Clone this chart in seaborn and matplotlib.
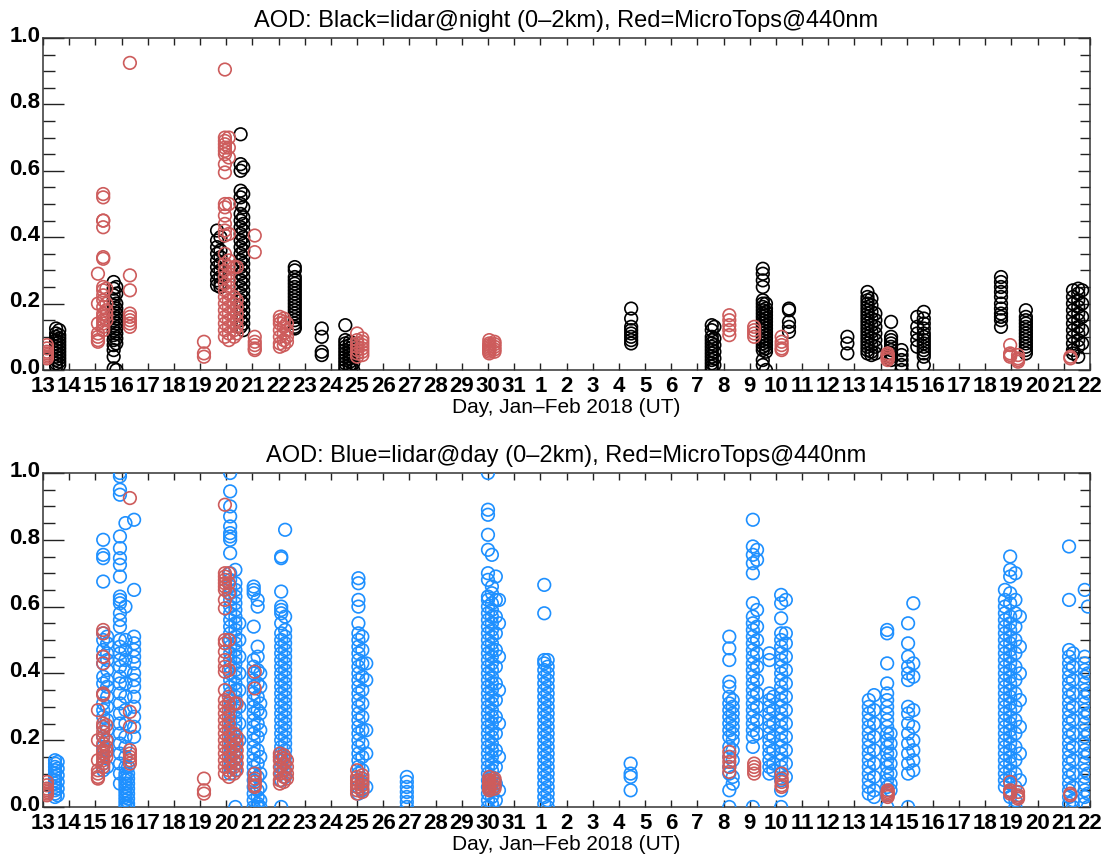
import numpy as np
import pandas as pd
import matplotlib
matplotlib.use("Agg")
import matplotlib.pyplot as plt
import matplotlib.transforms as mtransforms
import seaborn as sns

# ---------------- data (day of year 2018, AOD) ----------------
# each entry: (day, [aod values]) -> one narrow column of observations
night_columns = [
    (13.50, [0.125, 0.11, 0.10, 0.09, 0.08, 0.07, 0.06, 0.05, 0.04, 0.03, 0.02, 0.01]),
    (13.62, [0.12, 0.105, 0.095, 0.085, 0.075, 0.065, 0.055, 0.045, 0.035, 0.025, 0.015]),
    (15.70, [0.265, 0.245, 0.225, 0.21, 0.195, 0.18, 0.165, 0.15, 0.135, 0.12, 0.105, 0.09, 0.075, 0.06, 0.04, 0.005]),
    (15.80, [0.25, 0.23, 0.20, 0.185, 0.17, 0.155, 0.14, 0.125, 0.11, 0.095, 0.08, 0.0]),
    (19.65, [0.42, 0.39, 0.37, 0.35, 0.33, 0.31, 0.29, 0.27, 0.255]),
    (19.78, [0.40, 0.36, 0.34, 0.32, 0.30, 0.28, 0.26, 0.25]),
    (20.55, [0.71, 0.62, 0.60, 0.54, 0.52, 0.50, 0.47, 0.45, 0.43, 0.41, 0.39, 0.37, 0.35, 0.33, 0.31,
             0.29, 0.27, 0.25, 0.23, 0.21, 0.19, 0.17, 0.15, 0.13]),
    (20.65, [0.61, 0.53, 0.49, 0.46, 0.44, 0.42, 0.40, 0.38, 0.36, 0.34, 0.32, 0.30, 0.28, 0.26, 0.24,
             0.22, 0.20, 0.18, 0.16, 0.14, 0.12]),
    (22.62, [0.31, 0.30, 0.28, 0.27, 0.26, 0.25, 0.24, 0.23, 0.22, 0.21, 0.20, 0.19, 0.18, 0.17, 0.16,
             0.15, 0.14, 0.13, 0.125]),
    (23.65, [0.125, 0.10, 0.055, 0.045]),
    (24.55, [0.135, 0.09, 0.08, 0.07, 0.06, 0.05, 0.04, 0.03, 0.02, 0.01, 0.0]),
    (24.72, [0.085, 0.075, 0.065, 0.055, 0.045, 0.035, 0.025, 0.015, 0.005]),
    (24.85, [0.08, 0.06, 0.04, 0.02, 0.0]),
    (35.47, [0.185, 0.155, 0.13, 0.12, 0.11, 0.10, 0.09, 0.08]),
    (38.55, [0.135, 0.12, 0.10, 0.09, 0.08, 0.07, 0.06, 0.05, 0.04, 0.03, 0.02, 0.01, 0.0]),
    (38.65, [0.13, 0.095, 0.075, 0.055, 0.035, 0.015]),
    (40.50, [0.305, 0.29, 0.27, 0.25, 0.21, 0.20, 0.19, 0.18, 0.17, 0.16, 0.15, 0.14, 0.13, 0.12, 0.11,
             0.10, 0.09, 0.08, 0.07, 0.06, 0.03, 0.015]),
    (40.62, [0.20, 0.185, 0.175, 0.165, 0.155, 0.145, 0.135, 0.125, 0.115, 0.105, 0.095, 0.085, 0.075,
             0.065, 0.055, 0.0]),
    (41.50, [0.185, 0.18, 0.145, 0.13, 0.115]),
    (43.73, [0.10, 0.08, 0.05]),
    (44.50, [0.235, 0.22, 0.21, 0.20, 0.19, 0.18, 0.17, 0.16, 0.15, 0.14, 0.13, 0.12, 0.11, 0.10, 0.09,
             0.08, 0.07, 0.06, 0.05]),
    (44.65, [0.215, 0.195, 0.175, 0.155, 0.135, 0.115, 0.095, 0.075, 0.055, 0.045]),
    (44.80, [0.17, 0.15, 0.13, 0.11, 0.09, 0.07, 0.05]),
    (45.40, [0.145, 0.10, 0.09, 0.08, 0.07, 0.06, 0.05, 0.04, 0.03]),
    (45.80, [0.06, 0.045, 0.03, 0.015, 0.0]),
    (46.40, [0.16, 0.13, 0.11, 0.09, 0.07]),
    (46.65, [0.175, 0.155, 0.14, 0.125, 0.11, 0.10, 0.09, 0.08, 0.07, 0.06, 0.05, 0.04, 0.015]),
    (49.60, [0.28, 0.265, 0.25, 0.235, 0.22, 0.20, 0.185, 0.17, 0.16, 0.15, 0.13]),
    (50.55, [0.18, 0.16, 0.15, 0.14, 0.13, 0.12, 0.11, 0.10, 0.09, 0.08, 0.07, 0.06, 0.05]),
    (52.35, [0.24, 0.22, 0.20, 0.18, 0.16, 0.14, 0.12, 0.10, 0.08, 0.06, 0.05]),
    (52.55, [0.245, 0.23, 0.21, 0.19, 0.17, 0.15, 0.13, 0.11, 0.09, 0.07, 0.04]),
    (52.70, [0.24, 0.20, 0.16, 0.12, 0.08]),
]

microtops_columns = [
    (13.15, [0.075, 0.065, 0.055, 0.05, 0.045, 0.04, 0.035]),
    (15.10, [0.29, 0.20, 0.14, 0.11, 0.10, 0.09, 0.085]),
    (15.30, [0.53, 0.52, 0.45, 0.45, 0.43, 0.34, 0.335, 0.25, 0.24, 0.225, 0.21, 0.19, 0.17, 0.16, 0.15,
             0.14, 0.13, 0.12]),
    (15.42, [0.245, 0.20, 0.18, 0.165, 0.15]),
    (16.32, [0.925, 0.285, 0.24, 0.17, 0.16, 0.15, 0.14, 0.13]),
    (19.15, [0.085, 0.05, 0.04]),
    (19.95, [0.905, 0.70, 0.69, 0.68, 0.67, 0.66, 0.65, 0.62, 0.595, 0.50, 0.49, 0.465, 0.44, 0.42, 0.405,
             0.35, 0.32, 0.30, 0.28, 0.26, 0.24, 0.22, 0.20, 0.18, 0.16, 0.14, 0.12, 0.10]),
    (20.10, [0.70, 0.67, 0.64, 0.50, 0.41, 0.33, 0.31, 0.29, 0.27, 0.25, 0.23, 0.21, 0.19, 0.17, 0.15,
             0.13, 0.11, 0.09]),
    (20.30, [0.31, 0.22, 0.20, 0.18, 0.16, 0.14, 0.12, 0.10]),
    (20.40, [0.31, 0.21, 0.19, 0.17, 0.15, 0.13, 0.11]),
    (21.09, [0.405, 0.355, 0.10, 0.085, 0.075, 0.065, 0.06]),
    (22.05, [0.16, 0.15, 0.14, 0.12, 0.10, 0.08, 0.07]),
    (22.20, [0.155, 0.145, 0.13, 0.11, 0.09, 0.075]),
    (22.32, [0.14, 0.12, 0.10, 0.085]),
    (25.00, [0.11, 0.09, 0.08, 0.07, 0.06, 0.05, 0.04]),
    (25.20, [0.095, 0.085, 0.075, 0.065, 0.055, 0.045]),
    (30.05, [0.09, 0.08, 0.075, 0.07, 0.065, 0.06, 0.055, 0.05]),
    (30.25, [0.085, 0.078, 0.07, 0.062, 0.055]),
    (39.22, [0.165, 0.15, 0.135, 0.12, 0.105]),
    (40.17, [0.13, 0.12, 0.11, 0.10]),
    (41.22, [0.10, 0.085, 0.075, 0.065, 0.06]),
    (45.27, [0.05, 0.045, 0.04, 0.035, 0.03]),
    (49.95, [0.075, 0.05, 0.045, 0.04]),
    (50.25, [0.045, 0.035, 0.03, 0.025]),
    (52.25, [0.04, 0.035]),
]

day_columns = [
    (13.46, [0.14, 0.13, 0.12, 0.11, 0.10, 0.09, 0.08, 0.07, 0.06, 0.05, 0.04, 0.03]),
    (13.56, [0.135, 0.115, 0.095, 0.075, 0.055, 0.035]),
    (15.30, [0.80, 0.755, 0.745, 0.675, 0.52, 0.50, 0.47, 0.45, 0.43, 0.39, 0.37, 0.34, 0.31, 0.29, 0.27,
             0.24, 0.21, 0.18, 0.13, 0.11]),
    (15.45, [0.51, 0.49, 0.46, 0.44, 0.41, 0.38, 0.36, 0.33, 0.30, 0.26, 0.23, 0.20, 0.17, 0.12]),
    (15.94, [1.0, 0.99, 0.95, 0.935, 0.81, 0.775, 0.745, 0.725, 0.69, 0.63, 0.62, 0.61, 0.58, 0.56, 0.54,
             0.50, 0.48, 0.46, 0.44, 0.42, 0.39, 0.37, 0.34, 0.31, 0.28, 0.25, 0.22, 0.19, 0.16, 0.13,
             0.10, 0.07]),
    (16.15, [0.85, 0.60, 0.50, 0.47, 0.44, 0.41, 0.37, 0.33, 0.29, 0.25, 0.21, 0.18, 0.15, 0.12, 0.10,
             0.09, 0.08, 0.07, 0.06, 0.05, 0.04, 0.03, 0.02, 0.01, 0.0]),
    (16.25, [0.12, 0.10, 0.085, 0.07, 0.055, 0.04, 0.025, 0.01, 0.0]),
    (16.48, [0.86, 0.65, 0.51, 0.49, 0.47, 0.45, 0.43, 0.40, 0.38, 0.36, 0.33, 0.30, 0.27, 0.24, 0.21]),
    (20.15, [1.0, 0.945, 0.90, 0.87, 0.84, 0.82, 0.81, 0.80, 0.76, 0.70, 0.68, 0.66, 0.64, 0.62, 0.60,
             0.58, 0.56, 0.54, 0.52, 0.50, 0.48, 0.46, 0.44, 0.42, 0.40, 0.38, 0.36, 0.34, 0.32, 0.30,
             0.28, 0.26, 0.24, 0.22, 0.20, 0.18, 0.16, 0.14, 0.12, 0.10]),
    (20.35, [0.71, 0.67, 0.65, 0.63, 0.61, 0.59, 0.57, 0.55, 0.53, 0.51, 0.49, 0.47, 0.45, 0.43, 0.41,
             0.39, 0.37, 0.35, 0.33, 0.31, 0.29, 0.27, 0.25, 0.23, 0.21, 0.19, 0.17, 0.15, 0.13, 0.11, 0.0]),
    (20.50, [0.55, 0.50, 0.45, 0.40, 0.35, 0.30, 0.25, 0.20]),
    (21.05, [0.66, 0.65, 0.64, 0.54, 0.44, 0.42, 0.40, 0.38, 0.36, 0.34, 0.32, 0.30, 0.28, 0.26, 0.24,
             0.22, 0.20, 0.18, 0.16, 0.14, 0.12, 0.10, 0.08, 0.06, 0.04, 0.02, 0.0]),
    (21.20, [0.62, 0.60, 0.48, 0.45, 0.41, 0.37, 0.33, 0.29, 0.25, 0.21, 0.17, 0.13, 0.09, 0.05, 0.03,
             0.01, 0.0]),
    (21.30, [0.40, 0.36, 0.31, 0.28, 0.23, 0.15, 0.10, 0.06, 0.02, 0.0]),
    (22.10, [0.75, 0.745, 0.645, 0.60, 0.59, 0.58, 0.55, 0.52, 0.50, 0.48, 0.46, 0.44, 0.42, 0.40, 0.38,
             0.36, 0.34, 0.32, 0.30, 0.28, 0.26, 0.24, 0.22, 0.20, 0.18, 0.16, 0.14, 0.12, 0.10, 0.08, 0.0]),
    (22.25, [0.83, 0.57, 0.53, 0.51, 0.49, 0.47, 0.45, 0.43, 0.41, 0.39, 0.37, 0.35, 0.33, 0.31, 0.29,
             0.27, 0.25, 0.23, 0.21, 0.19, 0.17, 0.15, 0.13, 0.11, 0.09]),
    (25.05, [0.685, 0.67, 0.62, 0.60, 0.55, 0.52, 0.50, 0.48, 0.46, 0.44, 0.42, 0.40, 0.38, 0.36, 0.34,
             0.32, 0.30, 0.28, 0.26, 0.24, 0.22, 0.20, 0.18, 0.16, 0.14, 0.12, 0.10, 0.08, 0.06, 0.04]),
    (25.20, [0.51, 0.47, 0.43, 0.39, 0.35, 0.31, 0.27, 0.23, 0.19, 0.15, 0.11, 0.07, 0.05]),
    (25.35, [0.43, 0.38, 0.23, 0.16, 0.06]),
    (26.90, [0.09, 0.075, 0.06, 0.045, 0.03, 0.015, 0.0]),
    (30.00, [1.0, 0.89, 0.875, 0.815, 0.77, 0.70, 0.68, 0.63, 0.62, 0.60, 0.58, 0.56, 0.54, 0.52, 0.50,
             0.48, 0.46, 0.44, 0.42, 0.40, 0.38, 0.36, 0.34, 0.32, 0.30, 0.28, 0.26, 0.24, 0.22, 0.20,
             0.18, 0.16, 0.14, 0.12, 0.10, 0.08, 0.06, 0.04, 0.02, 0.0]),
    (30.15, [0.755, 0.66, 0.64, 0.61, 0.59, 0.57, 0.55, 0.53, 0.51, 0.49, 0.47, 0.45, 0.43, 0.41, 0.39,
             0.37, 0.35, 0.33, 0.31, 0.29, 0.27, 0.25, 0.23, 0.21, 0.19, 0.17, 0.15, 0.13, 0.11, 0.09,
             0.07, 0.05, 0.03, 0.01]),
    (30.30, [0.69, 0.62, 0.57, 0.52, 0.47, 0.42, 0.37, 0.32, 0.27, 0.22, 0.17, 0.12, 0.07, 0.02]),
    (30.42, [0.62, 0.55, 0.45, 0.35, 0.25, 0.15, 0.05]),
    (32.15, [0.665, 0.58, 0.44, 0.43, 0.41, 0.39, 0.37, 0.35, 0.33, 0.31, 0.29, 0.27, 0.25, 0.23, 0.21,
             0.19, 0.17, 0.15, 0.13, 0.11, 0.09, 0.07, 0.05, 0.03, 0.01]),
    (32.28, [0.44, 0.42, 0.40, 0.38, 0.36, 0.34, 0.32, 0.30, 0.28, 0.26, 0.24, 0.22, 0.20, 0.18, 0.16,
             0.14, 0.12, 0.10, 0.08, 0.06, 0.04, 0.02, 0.0]),
    (35.45, [0.13, 0.10, 0.09, 0.05]),
    (39.22, [0.51, 0.475, 0.44, 0.375, 0.36, 0.33, 0.31, 0.29, 0.27, 0.25, 0.23, 0.21, 0.18, 0.15, 0.12,
             0.10, 0.05, 0.0]),
    (39.35, [0.32, 0.30, 0.28, 0.26, 0.24, 0.22, 0.20, 0.17, 0.14, 0.09, 0.07]),
    (40.12, [0.86, 0.78, 0.755, 0.73, 0.70, 0.61, 0.57, 0.55, 0.53, 0.51, 0.49, 0.47, 0.45, 0.43, 0.41,
             0.39, 0.37, 0.35, 0.33, 0.31, 0.29, 0.27, 0.25, 0.23, 0.21, 0.18, 0.0]),
    (40.28, [0.77, 0.74, 0.59, 0.54, 0.50, 0.46, 0.42, 0.38, 0.34, 0.30, 0.26, 0.22]),
    (40.75, [0.46, 0.44, 0.34, 0.32, 0.30, 0.28, 0.26, 0.24, 0.22, 0.20, 0.18, 0.16, 0.14, 0.12, 0.10]),
    (40.90, [0.33, 0.29, 0.25, 0.21, 0.17, 0.13, 0.11]),
    (41.20, [0.635, 0.61, 0.565, 0.52, 0.50, 0.48, 0.46, 0.44, 0.42, 0.40, 0.38, 0.36, 0.34, 0.32, 0.30,
             0.28, 0.26, 0.24, 0.22, 0.20, 0.18, 0.16, 0.14, 0.12, 0.10, 0.08, 0.05, 0.0]),
    (41.38, [0.62, 0.52, 0.49, 0.45, 0.41, 0.37, 0.33, 0.29, 0.25, 0.21, 0.17, 0.13, 0.09]),
    (44.55, [0.32, 0.30, 0.28, 0.26, 0.24, 0.22, 0.20, 0.18, 0.16, 0.14, 0.12, 0.10, 0.08, 0.06, 0.04]),
    (44.75, [0.335, 0.29, 0.25, 0.21, 0.17, 0.13, 0.09, 0.05, 0.03]),
    (45.25, [0.53, 0.52, 0.43, 0.37, 0.34, 0.32, 0.30, 0.28, 0.26, 0.24, 0.22, 0.20, 0.18, 0.16, 0.14,
             0.12, 0.10, 0.08, 0.06, 0.0]),
    (45.38, [0.22, 0.19, 0.16, 0.13, 0.10, 0.07, 0.05]),
    (46.05, [0.55, 0.49, 0.45, 0.42, 0.40, 0.38, 0.30, 0.28, 0.25, 0.22, 0.19, 0.16, 0.13, 0.10, 0.0]),
    (46.25, [0.61, 0.43, 0.39, 0.29, 0.24, 0.20, 0.17, 0.14, 0.11]),
    (49.75, [0.65, 0.62, 0.60, 0.58, 0.56, 0.54, 0.52, 0.50, 0.48, 0.46, 0.44, 0.42, 0.40, 0.38, 0.36,
             0.34, 0.32, 0.30, 0.28, 0.26, 0.24, 0.22, 0.20, 0.18, 0.16, 0.14, 0.12, 0.10, 0.08, 0.06]),
    (49.95, [0.75, 0.71, 0.69, 0.64, 0.61, 0.57, 0.55, 0.53, 0.51, 0.49, 0.47, 0.45, 0.43, 0.41, 0.39,
             0.37, 0.35, 0.33, 0.31, 0.29, 0.27, 0.25, 0.23, 0.21, 0.19, 0.17, 0.15, 0.13, 0.11, 0.09,
             0.07, 0.05, 0.03]),
    (50.15, [0.70, 0.62, 0.58, 0.54, 0.50, 0.46, 0.42, 0.38, 0.34, 0.30, 0.26, 0.22, 0.18, 0.14, 0.10,
             0.06, 0.02, 0.0]),
    (50.32, [0.57, 0.48, 0.40, 0.32, 0.24, 0.16, 0.08]),
    (52.20, [0.78, 0.62, 0.47, 0.45, 0.43, 0.41, 0.39, 0.37, 0.35, 0.33, 0.31, 0.29, 0.27, 0.25, 0.23,
             0.21, 0.19, 0.17, 0.15, 0.13, 0.11, 0.09, 0.07, 0.05, 0.03, 0.01]),
    (52.35, [0.46, 0.42, 0.38, 0.34, 0.30, 0.26, 0.22, 0.18, 0.14, 0.10, 0.06, 0.02, 0.0]),
    (52.80, [0.65, 0.45, 0.43, 0.41, 0.39, 0.37, 0.35, 0.33, 0.31, 0.29, 0.27, 0.25, 0.23, 0.21, 0.19,
             0.17, 0.15, 0.13, 0.11, 0.09, 0.07, 0.05, 0.03, 0.01]),
    (52.92, [0.60, 0.40, 0.34, 0.28, 0.22, 0.16, 0.10, 0.04, 0.0]),
]

tick_days = list(range(13, 54))
tick_labels = [str(d) for d in range(13, 32)] + [str(d) for d in range(1, 23)]
ytick_values = [0.0, 0.2, 0.4, 0.6, 0.8, 1.0]
ytick_labels = ["0.0", "0.2", "0.4", "0.6", "0.8", "1.0"]

titles = ["AOD: Black=lidar@night (0\u20132km), Red=MicroTops@440nm",
          "AOD: Blue=lidar@day (0\u20132km), Red=MicroTops@440nm"]
xlabel = "Day, Jan\u2013Feb 2018 (UT)"


def to_frame(columns):
    rows = [(d, v) for d, vals in columns for v in vals]
    return pd.DataFrame(rows, columns=["day", "aod"])


night_df = to_frame(night_columns)
mt_df = to_frame(microtops_columns)
day_df = to_frame(day_columns)

BLACK = "#000000"
RED = "#cd5c5c"
BLUE = "#1e90ff"

sns.set_theme(style="white")
plt.rcParams["font.family"] = ["Liberation Sans", "DejaVu Sans"]
plt.rcParams["text.color"] = "black"
plt.rcParams["axes.labelcolor"] = "black"
plt.rcParams["axes.titlecolor"] = "black"

fig = plt.figure(figsize=(11.05, 8.61), dpi=100)
W, H = 1105, 861
x0, x1 = 43, 1090
ax_top = fig.add_axes([x0 / W, 1 - 370 / H, (x1 - x0) / W, (370 - 38) / H])
ax_bot = fig.add_axes([x0 / W, 1 - 807 / H, (x1 - x0) / W, (807 - 473) / H])

msize = 82
mlw = 1.2


def scatter(ax, df, color):
    sns.scatterplot(data=df, x="day", y="aod", ax=ax, s=msize, marker="o",
                    color=color, facecolor="none", edgecolor=color,
                    linewidth=mlw, legend=False, zorder=3)


scatter(ax_top, night_df, BLACK)
scatter(ax_top, mt_df, RED)
scatter(ax_bot, day_df, BLUE)
scatter(ax_bot, mt_df, RED)

up = mtransforms.ScaledTranslation(0, 3 / 72, fig.dpi_scale_trans)

for ax, title in zip([ax_top, ax_bot], titles):
    ax.set_xlim(13, 53)
    ax.set_ylim(0, 1.0)
    ax.set_xticks(tick_days)
    ax.set_xticklabels(tick_labels, fontsize=16, fontweight="bold")
    ax.set_yticks(ytick_values)
    ax.set_yticklabels(ytick_labels, fontsize=16, fontweight="bold")
    ax.set_yticks(np.arange(0, 1.0001, 0.05), minor=True)
    ax.tick_params(axis="x", which="major", direction="in", length=5, width=1.0,
                   top=True, bottom=True, pad=4, colors="#222222", labelcolor="black")
    ax.tick_params(axis="y", which="major", direction="in", length=15, width=1.0,
                   left=True, right=False, pad=2, colors="#222222", labelcolor="black")
    ax.tick_params(axis="y", which="minor", direction="in", length=8.5, width=1.0,
                   left=True, right=False, colors="#222222")
    for lab in ax.get_yticklabels():
        lab.set_transform(lab.get_transform() + up)
    sec = ax.secondary_yaxis("right")
    sec.set_yticks(ytick_values)
    sec.set_yticks(np.arange(0, 1.0001, 0.05), minor=True)
    sec.tick_params(axis="y", which="major", direction="in", length=8.5, width=1.0,
                    labelright=False, colors="#222222")
    sec.tick_params(axis="y", which="minor", direction="in", length=7, width=1.0,
                    colors="#222222")
    sec.spines["right"].set_visible(False)
    for sp in ax.spines.values():
        sp.set_color("#333333")
        sp.set_linewidth(1.1)
    ax.set_xlabel(xlabel, fontsize=15, labelpad=1)
    ax.set_ylabel("")
    ax.set_title(title, fontsize=17, pad=8)

fig.savefig("out.png", dpi=100)
